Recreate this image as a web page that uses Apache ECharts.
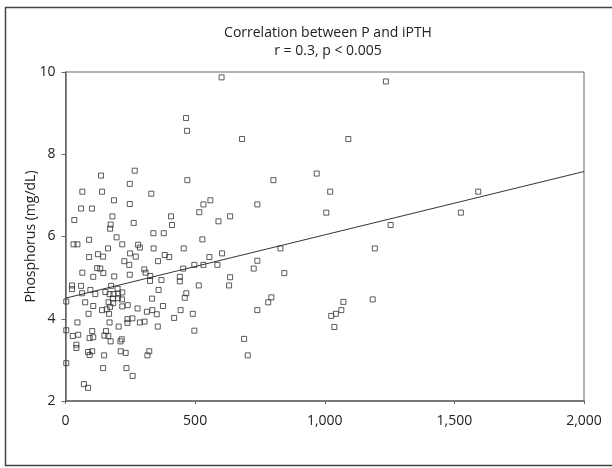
<!DOCTYPE html>
<html>
<head>
<meta charset="utf-8">
<script src="https://cdn.jsdelivr.net/npm/echarts@6/dist/echarts.min.js"></script>
<style>html,body{margin:0;padding:0;background:#fff;}#c{width:612px;height:468px;}</style>
</head>
<body>
<div id="c"></div>
<script>
// iPTH (x) values
var iPTH = [
267,137,248,65,141,331,187,248,60,102,181,34,174,263,172,339,197,91,31,46,219,280,164,287,340,
249,125,145,91,271,227,357,246,122,134,107,146,65,188,248,304,309,327,326,370,25,25,60,96,64,
115,154,176,201,170,185,203,219,183,203,218,334,359,3,76,107,166,184,172,219,240,141,159,278,314,
335,352,89,168,239,239,258,287,305,46,170,205,356,3,28,49,103,93,107,150,165,156,174,217,212,
42,42,87,103,93,149,213,232,323,316,3,145,235,259,71,87,
470,559,532,740,516,407,635,411,590,379,528,456,383,400,604,555,497,532,586,454,740,726,441,441,635,
631,514,466,460,376,444,419,491,740,497,689,703,681,
602,465,469,1236,1091,969,802,1021,1006,829,844,794,782,1072,1064,1043,1025,1037,1592,1525,1254,1193,1185
];
// Phosphorus (y) values
var phosphorus = [
7.60,7.48,7.28,7.09,7.09,7.04,6.88,6.79,6.68,6.68,6.49,6.40,6.29,6.33,6.19,6.08,5.98,5.92,5.81,5.81,5.81,5.80,5.71,5.73,5.71,
5.59,5.57,5.51,5.50,5.51,5.40,5.40,5.31,5.23,5.22,5.02,5.11,5.12,5.03,5.07,5.20,5.12,5.04,4.92,4.94,4.81,4.72,4.80,4.70,4.62,
4.60,4.65,4.80,4.73,4.60,4.60,4.61,4.64,4.49,4.50,4.47,4.49,4.70,4.42,4.40,4.31,4.40,4.38,4.29,4.30,4.33,4.21,4.23,4.25,4.17,
4.21,4.11,4.12,4.12,3.99,3.90,4.01,3.91,3.93,3.91,3.91,3.81,3.81,3.72,3.58,3.61,3.70,3.53,3.55,3.59,3.58,3.70,3.45,3.50,3.45,
3.37,3.29,3.19,3.21,3.12,3.11,3.21,3.17,3.21,3.11,2.92,2.80,2.80,2.61,2.41,2.32,
7.37,6.88,6.78,6.78,6.59,6.49,6.49,6.28,6.37,6.08,5.93,5.71,5.55,5.50,5.59,5.50,5.31,5.31,5.31,5.22,5.41,5.22,5.02,4.91,5.01,
4.81,4.81,4.62,4.51,4.31,4.21,4.02,4.12,4.21,3.71,3.51,3.11,8.37,
9.87,8.88,8.57,9.77,8.37,7.53,7.37,7.09,6.58,5.71,5.11,4.52,4.40,4.41,4.21,4.12,4.07,3.80,7.09,6.58,6.28,5.71,4.47
];
// Regression line endpoints
var fitX = [0, 2000];
var fitY = [4.5, 7.58];
var xTicks = [0, 500, 1000, 1500, 2000];
var yTicks = [2, 4, 6, 8, 10];

var pts = iPTH.map(function (x, i) { return [x, phosphorus[i]]; });
var fit = fitX.map(function (x, i) { return [x, fitY[i]]; });

var font = 'Open Sans';
var chart = echarts.init(document.getElementById('c'), null, {renderer: 'canvas'});
chart.setOption({
  animation: false,
  backgroundColor: '#fff',
  title: {
    text: 'Correlation between P and iPTH\nr = 0.3, p < 0.005',
    left: 323, top: 19, textAlign: 'center',
    textStyle: {fontFamily: font, fontSize: 14, fontWeight: 'normal', color: '#222', lineHeight: 18}
  },
  graphic: [{
    type: 'rect', shape: {x: 5.5, y: 7.5, width: 620, height: 458},
    style: {fill: 'none', stroke: '#444', lineWidth: 1.5}, silent: true
  }],
  grid: {left: 65.5, right: 28, top: 72, bottom: 67, show: true, borderColor: '#666', borderWidth: 1, backgroundColor: 'transparent'},
  xAxis: {
    type: 'value', min: xTicks[0], max: xTicks[xTicks.length - 1], interval: 500,
    splitLine: {show: false},
    axisLine: {show: true, lineStyle: {color: '#666', width: 1.5}},
    axisTick: {show: true, length: 3, lineStyle: {color: '#666'}},
    axisLabel: {margin: 13, fontFamily: font, fontSize: 14, color: '#222',
      formatter: function (v) { return v.toLocaleString('en-US'); }}
  },
  yAxis: {
    type: 'value', min: yTicks[0], max: yTicks[yTicks.length - 1], interval: 2,
    name: 'Phosphorus (mg/dL)', nameLocation: 'middle', nameGap: 27, nameMoveOverlap: false,
    nameTextStyle: {fontFamily: font, fontSize: 14, color: '#222'},
    splitLine: {show: false},
    axisLine: {show: true, lineStyle: {color: '#666', width: 1.5}},
    axisTick: {show: true, length: 4, lineStyle: {color: '#666'}},
    axisLabel: {margin: 10, fontFamily: font, fontSize: 14, color: '#222'}
  },
  series: [{
    type: 'scatter', data: pts, symbol: 'rect', symbolSize: 5,
    itemStyle: {color: 'rgba(0,0,0,0)', borderColor: '#333', borderWidth: 1}
  }, {
    type: 'line', data: fit, showSymbol: false, symbol: 'none',
    lineStyle: {color: '#333', width: 1}
  }]
});
</script>
</body>
</html>
